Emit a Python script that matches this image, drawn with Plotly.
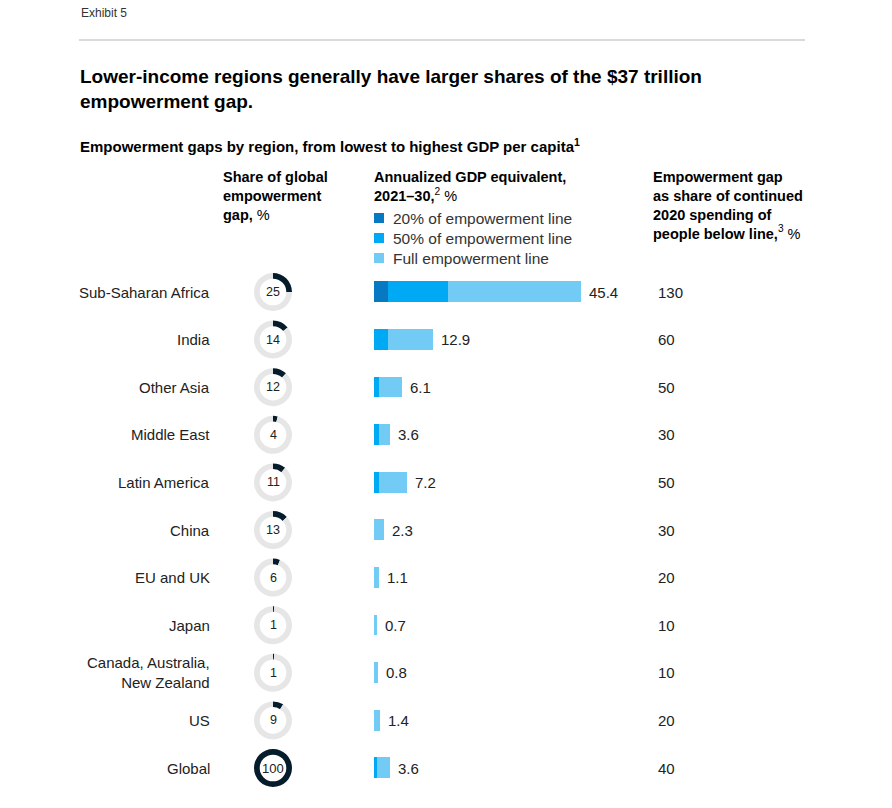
import plotly.graph_objects as go

W, H = 892, 808

regions = ["Sub-Saharan Africa", "India", "Other Asia", "Middle East", "Latin America",
           "China", "EU and UK", "Japan", "Canada, Australia,<br>New Zealand", "US", "Global"]
share_pct = [25, 14, 12, 4, 11, 13, 6, 1, 1, 9, 100]
gap_20 = [3.1, 0.0, 0.0, 0.0, 0.0, 0.0, 0.0, 0.0, 0.0, 0.0, 0.0]
gap_50 = [16.2, 3.1, 1.1, 1.0, 1.1, 0.0, 0.0, 0.0, 0.0, 0.0, 0.6]
gap_full = [45.4, 12.9, 6.1, 3.6, 7.2, 2.3, 1.1, 0.7, 0.8, 1.4, 3.6]
spend_share = [130, 60, 50, 30, 50, 30, 20, 10, 10, 20, 40]

C_DARK = "#0679c2"
C_MED = "#00a9f4"
C_LIGHT = "#71cbf4"
C_NAVY = "#051c2c"
C_GRAY = "#e6e6e6"
TXT = "#222222"
FONT = "Liberation Sans, Arial, sans-serif"


def px(x):
    return x / W


def py(y):
    return 1 - y / H


ROW0, STEP = 292, 47.6
n = len(regions)
idx = list(range(n))

fig = go.Figure()

# Bars (nested values drawn overlaid)
for vals, col, name in [(gap_full, C_LIGHT, "Full"),
                        (gap_50, C_MED, "50%"),
                        (gap_20, C_DARK, "20%")]:
    fig.add_trace(go.Bar(
        x=vals, y=idx, orientation="h", marker=dict(color=col, line=dict(width=0)),
        width=0.44, name=name, showlegend=False, hoverinfo="skip",
    ))

# Donuts
R = 19
for i, s in enumerate(share_pct):
    yc = ROW0 + STEP * i
    xc = 273
    fig.add_trace(go.Pie(
        values=[s, 100 - s], marker=dict(colors=[C_NAVY, C_GRAY], line=dict(width=0)),
        hole=0.7, sort=False, direction="clockwise", rotation=0,
        textinfo="none", hoverinfo="skip", showlegend=False,
        domain=dict(x=[px(xc - R), px(xc + R)], y=[py(yc + R), py(yc - R)]),
    ))

ann = []


def A(x, y, text, size=15, color=TXT, xanchor="left", yanchor="middle", align="left"):
    ann.append(dict(x=px(x), y=py(y), xref="paper", yref="paper", text=text,
                    xanchor=xanchor, yanchor=yanchor, align=align, showarrow=False,
                    font=dict(family=FONT, size=size, color=color)))


for i, (r, s, sp, v) in enumerate(zip(regions, share_pct, spend_share, gap_full)):
    yc = ROW0 + STEP * i
    A(212, yc, r, xanchor="right", align="right")
    A(273, yc, str(s), size=13 if s == 100 else 12.5, xanchor="center", align="center")
    A(656, yc, str(sp))
    # value label next to bar end
    ann.append(dict(x=v, y=i, xref="x", yref="y", text=f"{v:.1f}", xanchor="left",
                    yanchor="middle", xshift=6, showarrow=False,
                    font=dict(family=FONT, size=15, color=TXT)))

# Header texts
A(79, 13, "Exhibit 5", size=12, color="#333333")
A(78, 64, "<b>Lower-income regions generally have larger shares of the $37 trillion<br>empowerment gap.</b>",
  size=19, color="#000000", yanchor="top")
A(78, 145, "<b>Empowerment gaps by region, from lowest to highest GDP per capita<sup>1</sup></b>",
  size=15, color="#000000")
A(221, 167, "<b>Share of global<br>empowerment<br>gap,</b> %", size=14.5, color="#000000", yanchor="top")
A(372, 167, "<b>Annualized GDP equivalent,<br>2021–30,</b><sup>2</sup> %", size=14.5, color="#000000",
  yanchor="top")
A(651, 167, "<b>Empowerment gap<br>as share of continued<br>2020 spending of<br>people below line,</b><sup>3</sup> %",
  size=14.5, color="#000000", yanchor="top")

legend_items = [("20% of empowerment line", C_DARK), ("50% of empowerment line", C_MED),
                ("Full empowerment line", C_LIGHT)]
shapes = [dict(type="line", xref="paper", yref="paper", x0=px(79), x1=px(805), y0=py(40), y1=py(40),
               line=dict(color="#b5b5b5", width=1))]
for k, (lab, col) in enumerate(legend_items):
    yc = 218 + 20 * k
    shapes.append(dict(type="rect", xref="paper", yref="paper", x0=px(374), x1=px(384),
                       y0=py(yc + 5), y1=py(yc - 5), fillcolor=col, line=dict(width=0)))
    A(391, yc, lab, size=15.5, color="#333333")

x0px, x1px = 374, 800
fig.update_layout(
    width=W, height=H, margin=dict(l=0, r=0, t=0, b=0),
    paper_bgcolor="white", plot_bgcolor="white",
    barmode="overlay", bargap=0,
    xaxis=dict(domain=[px(x0px), px(x1px)], range=[0, (x1px - x0px) / 4.56],
               visible=False, fixedrange=True),
    yaxis=dict(domain=[py(ROW0 + STEP * (n - 0.5)), py(ROW0 - STEP * 0.5)],
               range=[n - 0.5, -0.5], visible=False, fixedrange=True),
    annotations=ann, shapes=shapes, showlegend=False,
)

fig.write_html("out.html", config={"displayModeBar": False},
               post_script="document.body.style.margin='0';")
